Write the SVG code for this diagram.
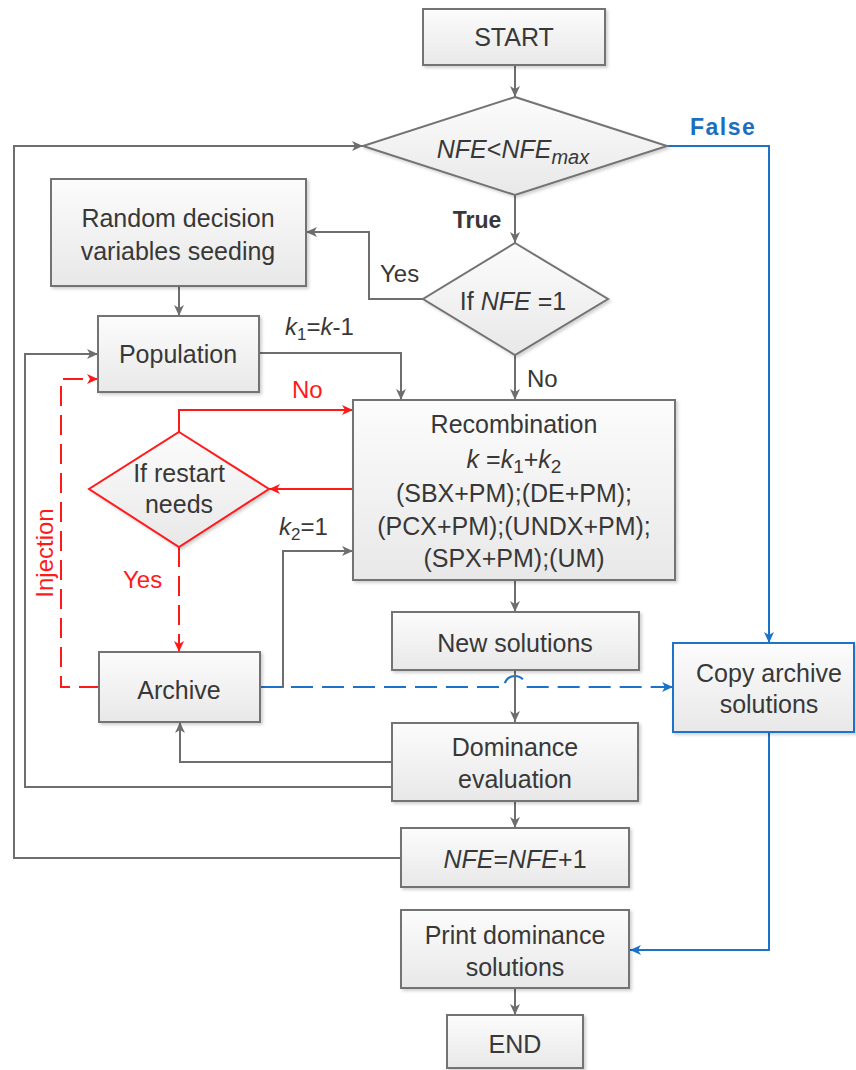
<svg xmlns="http://www.w3.org/2000/svg" width="856" height="1070" viewBox="0 0 856 1070">
  <defs>
    <linearGradient id="boxFill" x1="0" y1="0" x2="0" y2="1">
      <stop offset="0" stop-color="#fcfcfc"/>
      <stop offset="1" stop-color="#e8e8e8"/>
    </linearGradient>
    <filter id="shadow" x="-10%" y="-10%" width="130%" height="130%">
      <feDropShadow dx="2" dy="2" stdDeviation="1.5" flood-color="#000" flood-opacity="0.18"/>
    </filter>
    <marker id="arrGray" markerUnits="userSpaceOnUse" markerWidth="12" markerHeight="10" refX="11" refY="5" orient="auto">
      <path d="M0,0 L11,5 L0,10 L3,5 z" fill="#6e6e6e"/>
    </marker>
    <marker id="arrRed" markerUnits="userSpaceOnUse" markerWidth="12" markerHeight="10" refX="11" refY="5" orient="auto">
      <path d="M0,0 L11,5 L0,10 L3,5 z" fill="#ff1a1a"/>
    </marker>
    <marker id="arrBlue" markerUnits="userSpaceOnUse" markerWidth="12" markerHeight="10" refX="11" refY="5" orient="auto">
      <path d="M0,0 L11,5 L0,10 L3,5 z" fill="#1a73c8"/>
    </marker>
  </defs>
  <style>
    .box { fill: url(#boxFill); stroke: #737373; stroke-width: 2; filter: url(#shadow); }
    .boxRed { fill: url(#boxFill); stroke: #ff1a1a; stroke-width: 2; filter: url(#shadow); }
    .boxBlue { fill: url(#boxFill); stroke: #1a73c8; stroke-width: 2; filter: url(#shadow); }
    text { font-family: "Liberation Sans", Arial, sans-serif; font-size: 25px; fill: #383838; }
    .c { text-anchor: middle; }
    .it { font-style: italic; }
    .lbl { font-size: 24px; }
    .red { fill: #ff1a1a; }
    .blue { fill: #1a6fc0; font-weight: bold; letter-spacing: 1.5px; font-size: 23px; }
    .bold { font-weight: bold; font-size: 23px; }
    .ln { fill: none; stroke: #6e6e6e; stroke-width: 2; marker-end: url(#arrGray); }
    .lnRed { fill: none; stroke: #ff1a1a; stroke-width: 2; marker-end: url(#arrRed); }
    .lnRedDash { fill: none; stroke: #ff1a1a; stroke-width: 2; stroke-dasharray: 20 9; marker-end: url(#arrRed); }
    .lnBlue { fill: none; stroke: #1a73c8; stroke-width: 2; marker-end: url(#arrBlue); }
    .lnBlueDash { fill: none; stroke: #1a73c8; stroke-width: 2; stroke-dasharray: 22 9; marker-end: url(#arrBlue); }
  </style>

  <!-- connectors -->
  <g id="connectors">
    <path class="ln" d="M515,65 V97"/>
    <path class="ln" d="M515,195 V243"/>
    <path class="ln" d="M423,299 H369 V232 H306"/>
    <path class="ln" d="M515,355 V400"/>
    <path class="ln" d="M179,286 V316"/>
    <path class="ln" d="M259,353 H401 V400"/>
    <path class="lnRed" d="M179,432 V410 H353"/>
    <path class="lnRed" d="M353,489 H269"/>
    <path class="lnRedDash" d="M179,547 V652"/>
    <path class="lnRedDash" d="M99,687 H61 V379 H98"/>
    <path class="ln" d="M260,687 H283 V551 H353"/>
    <path class="lnBlueDash" d="M260,687 H504 A11,11 0 0 1 526,687 H673"/>
    <path class="ln" d="M515,580 V612"/>
    <path class="ln" d="M515,670 V722"/>
    <path class="ln" d="M392,762 H180 V722"/>
    <path class="ln" d="M392,787 H25 V354 H98"/>
    <path class="ln" d="M515,801 V828"/>
    <path class="ln" d="M401,858 H14 V146 H363"/>
    <path class="lnBlue" d="M667,146 H769 V643"/>
    <path class="lnBlue" d="M769,732 V950 H630"/>
    <path class="ln" d="M515,988 V1015"/>
  </g>

  <!-- connector labels -->
  <g id="labels">
    <text class="bold" x="477" y="228" text-anchor="middle">True</text>
    <text class="blue" x="690" y="135">False</text>
    <text class="lbl" x="380" y="282">Yes</text>
    <text class="lbl" x="527" y="387">No</text>
    <text class="lbl red" x="292" y="398">No</text>
    <text class="lbl red" x="123" y="588">Yes</text>
    <text class="lbl red c" x="53" y="553" transform="rotate(-90 53 553)">Injection</text>
    <text class="lbl" x="285" y="335"><tspan class="it">k</tspan><tspan font-size="17" dy="5">1</tspan><tspan dy="-5">=</tspan><tspan class="it">k</tspan><tspan>-1</tspan></text>
    <text class="lbl" x="279" y="535"><tspan class="it">k</tspan><tspan font-size="17" dy="5">2</tspan><tspan dy="-5">=1</tspan></text>
  </g>

  <g id="start">
    <rect class="box" x="423" y="9" width="182" height="56"/>
    <text class="c" x="514" y="46">START</text>
  </g>

  <g id="nfe-check">
    <polygon class="box" points="515,97 667,146 515,195 363,146"/>
    <text class="c" x="513" y="158"><tspan class="it">NFE</tspan><tspan>&lt;</tspan><tspan class="it">NFE</tspan><tspan class="it" font-size="20" dy="6">max</tspan></text>
  </g>

  <g id="random-seeding">
    <rect class="box" x="51" y="179" width="255" height="107"/>
    <text class="c" x="178" y="227">Random decision</text>
    <text class="c" x="178" y="260">variables seeding</text>
  </g>

  <g id="first-eval">
    <polygon class="box" points="515,243 608,299 515,355 423,299"/>
    <text class="c" x="513" y="310">If <tspan class="it">NFE</tspan> =1</text>
  </g>

  <g id="population">
    <rect class="box" x="98" y="316" width="161" height="76"/>
    <text class="c" x="178" y="363">Population</text>
  </g>

  <g id="recombination">
    <rect class="box" x="353" y="400" width="322" height="180"/>
    <text class="c" x="514" y="433">Recombination</text>
    <text class="c" x="514" y="468"><tspan class="it">k</tspan> =<tspan class="it">k</tspan><tspan font-size="19" dy="5">1</tspan><tspan dy="-5">+</tspan><tspan class="it">k</tspan><tspan font-size="19" dy="5">2</tspan></text>
    <text class="c" x="514" y="502">(SBX+PM);(DE+PM);</text>
    <text class="c" x="514" y="535">(PCX+PM);(UNDX+PM);</text>
    <text class="c" x="514" y="567">(SPX+PM);(UM)</text>
  </g>

  <g id="restart-check">
    <polygon class="boxRed" points="179,432 269,489 179,547 89,489"/>
    <text class="c" x="179" y="482">If restart</text>
    <text class="c" x="179" y="513">needs</text>
  </g>

  <g id="new-solutions">
    <rect class="box" x="392" y="612" width="247" height="58"/>
    <text class="c" x="515" y="652">New solutions</text>
  </g>

  <g id="archive">
    <rect class="box" x="99" y="652" width="161" height="70"/>
    <text class="c" x="179" y="699">Archive</text>
  </g>

  <g id="copy-archive">
    <rect class="boxBlue" x="673" y="643" width="181" height="89"/>
    <text class="c" x="769" y="682">Copy archive</text>
    <text class="c" x="769" y="713">solutions</text>
  </g>

  <g id="dominance">
    <rect class="box" x="392" y="723" width="246" height="78"/>
    <text class="c" x="515" y="756">Dominance</text>
    <text class="c" x="515" y="788">evaluation</text>
  </g>

  <g id="nfe-increment">
    <rect class="box" x="401" y="828" width="228" height="59"/>
    <text class="c" x="515" y="868"><tspan class="it">NFE</tspan>=<tspan class="it">NFE</tspan>+1</text>
  </g>

  <g id="print">
    <rect class="box" x="401" y="910" width="228" height="78"/>
    <text class="c" x="515" y="944">Print dominance</text>
    <text class="c" x="515" y="976">solutions</text>
  </g>

  <g id="end">
    <rect class="box" x="447" y="1015" width="136" height="53"/>
    <text class="c" x="515" y="1053">END</text>
  </g>
</svg>
